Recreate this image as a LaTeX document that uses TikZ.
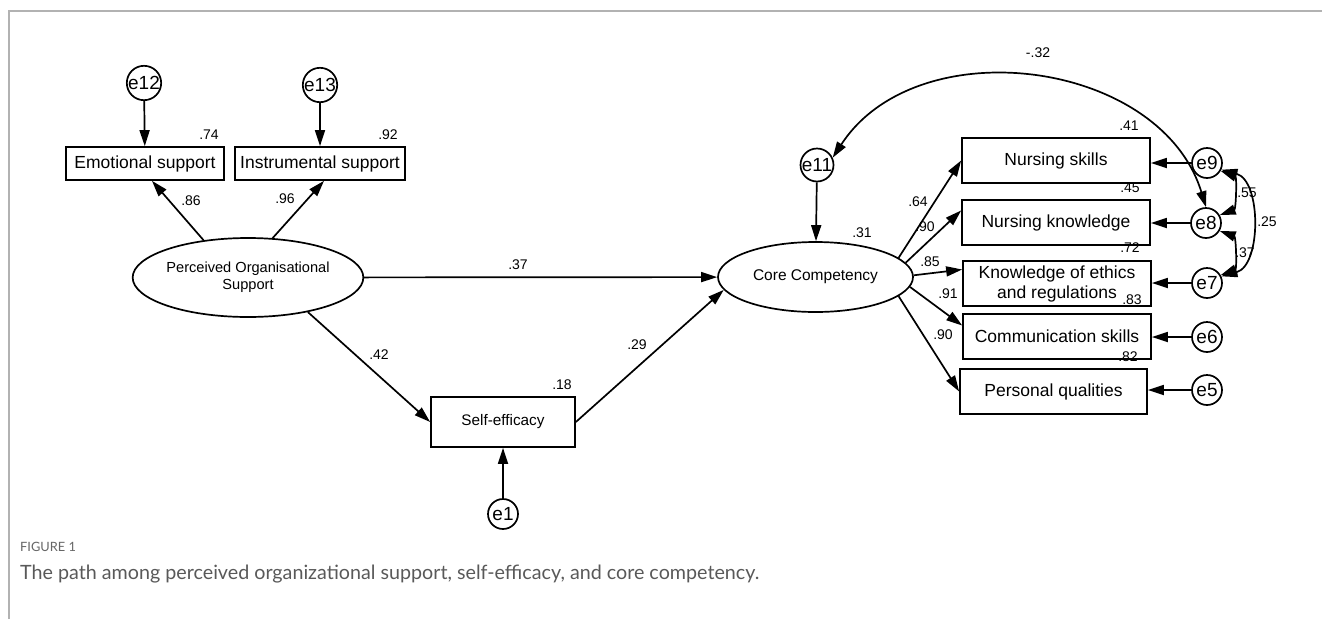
\documentclass[tikz,border=0pt]{standalone}
\usepackage{fontspec}
\setmainfont{Liberation Sans}
\newfontfamily\capfont{Lato}
\usetikzlibrary{arrows.meta,shapes.geometric,calc}
\begin{document}
\begin{tikzpicture}[x=1pt,y=-1pt,
  ebox/.style={draw,line width=1.7pt,rectangle,inner sep=0pt,align=center,font=\fontsize{17.5}{20}\selectfont},
  lat/.style={draw,line width=1.7pt,ellipse,inner sep=0pt,align=center},
  err/.style={draw,line width=1.7pt,circle,minimum size=30pt,inner sep=0pt,font=\fontsize{19}{21}\selectfont},
  num/.style={inner sep=0pt,font=\fontsize{14}{16}\selectfont},
  arr/.style={line width=1.7pt,-{Triangle[length=16pt,width=10pt]}},
  cov/.style={line width=1.7pt,{Triangle[length=16pt,width=10pt]}-{Triangle[length=16pt,width=10pt]}},
  frame/.style={draw=black!30,line width=2pt}]
\useasboundingbox (0,0) rectangle (1322,619);
% frame
\draw[frame] (8.7,619) -- (8.7,11) -- (1322,11);

% nodes
\node[ebox,minimum width=158pt,minimum height=33pt] (emo) at (145,163.5) {Emotional support};
\node[ebox,minimum width=170pt,minimum height=33pt] (instr) at (320,163.5) {Instrumental support};
\node[err] (e12) at (144,83) {e12};
\node[err] (e13) at (320,85) {e13};
\node[lat,minimum width=180pt,minimum height=79pt,font=\fontsize{14.6}{17}\selectfont] (pos) at (248,277.5) {Perceived Organisational\\Support};
\node[ebox,minimum width=144pt,minimum height=50pt,font=\fontsize{15.3}{18}\selectfont] (self) at (503,422) {Self-efficacy};
\node[err] (e1) at (503,514) {e1};
\node[lat,minimum width=195pt,minimum height=70pt,font=\fontsize{15.5}{18}\selectfont] (core) at (815.5,277) {Core Competency};
\node[err,minimum size=31pt] (e11) at (817,165) {e11};

\node[ebox,minimum width=188pt,minimum height=45pt] (ns) at (1056,160.5) {Nursing skills};
\node[ebox,minimum width=188pt,minimum height=45pt] (nk) at (1056,222.5) {Nursing knowledge};
\node[ebox,minimum width=188pt,minimum height=45pt] (ke) at (1057,283.5) {Knowledge of ethics\\and regulations};
\node[ebox,minimum width=188pt,minimum height=45pt] (cs) at (1057,336.5) {Communication skills};
\node[ebox,minimum width=187pt,minimum height=45pt] (pq) at (1053.5,391.5) {Personal qualities};

\node[err] (e9) at (1207,163) {e9};
\node[err] (e8) at (1206,223) {e8};
\node[err] (e7) at (1207,283) {e7};
\node[err] (e6) at (1207,337) {e6};
\node[err] (e5) at (1207,390) {e5};

% numbers
\node[num] (n74) at (209,135) {.74};
\node[num] (n92) at (388,135) {.92};
\node[num] (n86) at (191,201) {.86};
\node[num] (n96) at (285,199) {.96};
\node[num] (n37a) at (518,265) {.37};
\node[num] (n42) at (379,355) {.42};
\node[num] (n29) at (637,345) {.29};
\node[num] (n18) at (562,385) {.18};
\node[num] (n31) at (862,233) {.31};
\node[num] (n64) at (918,202) {.64};
\node[num] (n90a) at (925,227) {.90};
\node[num] (n85) at (930,262) {.85};
\node[num] (n91) at (948,294) {.91};
\node[num] (n90b) at (943,335) {.90};
\node[num] (n41) at (1129,126) {.41};
\node[num] (n45) at (1130,188) {.45};
\node[num] (n72) at (1130,248) {.72};
\node[num] (n83) at (1132,300) {.83};
\node[num] (n82) at (1128,357) {.82};
\node[num] (n55) at (1247,193) {.55};
\node[num] (n25) at (1267,222) {.25};
\node[num] (n37b) at (1245,253) {.37};
\node[num] (n32) at (1038,53) {-.32};

% connectors
\draw[arr] (e12) -- (emo);
\draw[arr] (e13) -- (instr);
\draw[arr] (pos.140) -- ($(emo.south)+(7,0)$);
\draw[arr] (pos.58) -- ($(instr.south)+(4,0)$);
\draw[arr] (pos) -- (core);
\draw[arr] (pos.-30) -- (self.west);
\draw[arr] (self.east) -- (core.188);
\draw[arr] (e1) -- (self);
\draw[arr] (e11) -- (core);
\draw[arr] (core.13) -- (ns.west);
\draw[arr] (core.9) -- ($(nk.west)+(0,-12)$);
\draw[arr] (core.1) -- ($(ke.west)+(0,-14)$);
\draw[arr] (core.-6) -- ($(cs.west)+(0,-11)$);
\draw[arr] (core.-13) -- (pq.west);
\draw[arr] (e9) -- (e9 -| ns.east);
\draw[arr] (e8) -- (e8 -| nk.east);
\draw[arr] (e7) -- (e7 -| ke.east);
\draw[arr] (e6) -- (e6 -| cs.east);
\draw[arr] (e5) -- (e5 -| pq.east);
% covariances
\draw[cov] (e9.-30) to[out=-20,in=20] (e8.30);
\draw[cov] (e8.-30) to[out=-20,in=20] (e7.30);
\draw[cov] (e9.-25) to[out=-15,in=15] (e7.25);
\draw[cov] (e11.25) to[out=57,in=107,looseness=1.05] (e8.north);

% caption
\node[anchor=west,inner sep=0pt,text=black!60,font=\capfont\fontsize{12.8}{14}\selectfont] (figlab) at (20,547) {FIGURE 1};
\node[anchor=west,inner sep=0pt,text=black!65,font=\capfont\fontsize{19.7}{23}\selectfont] (cap) at (20,574) {The path among perceived organizational support, self-efficacy, and core competency.};
\end{tikzpicture}
\end{document}
